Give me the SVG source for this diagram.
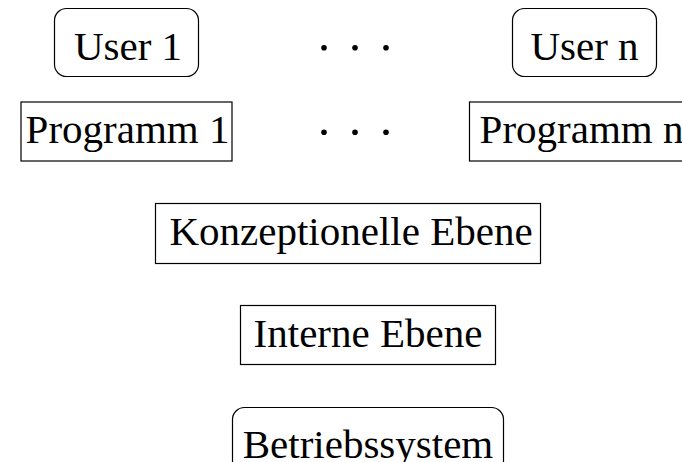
<svg xmlns="http://www.w3.org/2000/svg" width="682" height="462" viewBox="0 0 682 462">
<style>
.box{fill:#fff;stroke:#000;stroke-width:1.2}
.lbl{font-family:"Liberation Serif","Times New Roman",serif;font-size:41px;fill:#000;text-anchor:middle}
.dot{fill:#000}
</style>
<rect width="682" height="462" fill="#fff"/>
<g id="user1">
<rect class="box" x="54.5" y="8.5" width="144" height="68" rx="12"/>
<text class="lbl" x="128" y="60">User 1</text>
</g>
<g id="usern">
<rect class="box" x="512.5" y="8.5" width="144" height="68" rx="12"/>
<text class="lbl" x="584.5" y="60">User n</text>
</g>
<g id="programm1">
<rect class="box" x="21" y="102" width="211" height="59"/>
<text class="lbl" x="127.5" y="143">Programm 1</text>
</g>
<g id="programmn">
<rect class="box" x="469.5" y="102" width="225" height="59"/>
<text class="lbl" x="581.5" y="143">Programm n</text>
</g>
<g id="dots">
<circle class="dot" cx="324" cy="47.7" r="2.8"/>
<circle class="dot" cx="355" cy="47.7" r="2.8"/>
<circle class="dot" cx="386" cy="47.7" r="2.8"/>
<circle class="dot" cx="324" cy="132.3" r="2.8"/>
<circle class="dot" cx="355" cy="132.3" r="2.8"/>
<circle class="dot" cx="386" cy="132.3" r="2.8"/>
</g>
<g id="konzeptionell">
<rect class="box" x="155.5" y="203.5" width="385" height="60"/>
<text class="lbl" x="351" y="245">Konzeptionelle Ebene</text>
</g>
<g id="intern">
<rect class="box" x="240.5" y="305.5" width="255" height="59"/>
<text class="lbl" x="368" y="347">Interne Ebene</text>
</g>
<g id="betriebssystem">
<rect class="box" x="232.5" y="407.5" width="271" height="66" rx="12"/>
<text class="lbl" x="368" y="458">Betriebssystem</text>
</g>
<g id="connectors"></g>
</svg>
